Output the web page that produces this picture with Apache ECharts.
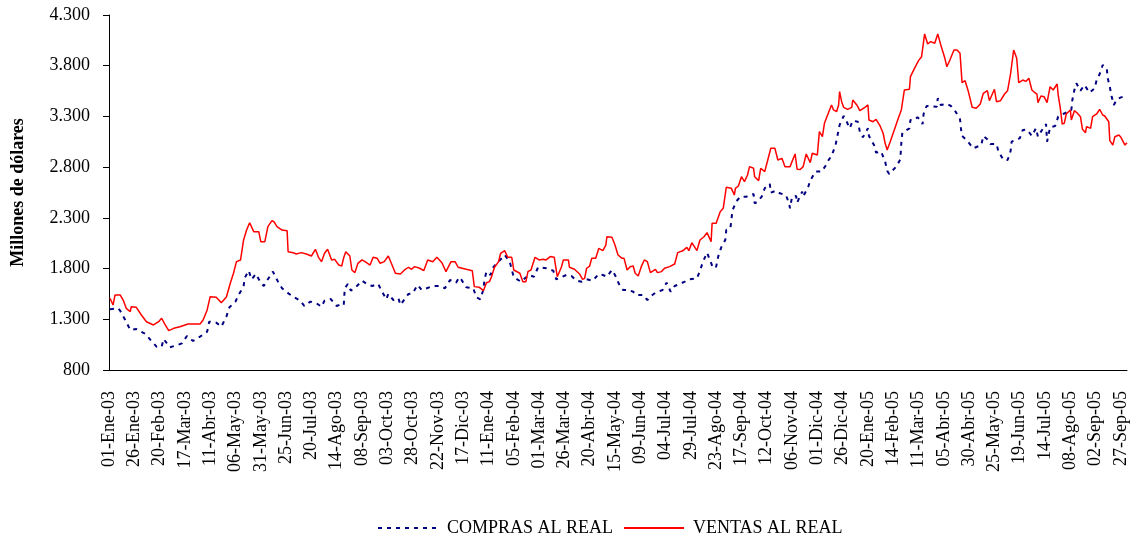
<!DOCTYPE html>
<html>
<head>
<meta charset="utf-8">
<title>Compras y ventas al real</title>
<script src="https://cdn.jsdelivr.net/npm/echarts/dist/echarts.min.js"></script>
<style>
  html, body { margin: 0; padding: 0; background: #fff; }
  #grafico { width: 1133px; height: 539px; }
</style>
</head>
<body>
<div id="grafico"></div>
<script>
// etiquetas del eje X: una cada 25 dias desde el 01-Ene-03 (dia 0)
var etiquetasFecha = [
  '01-Ene-03', '26-Ene-03', '20-Feb-03', '17-Mar-03', '11-Abr-03', '06-May-03', '31-May-03',
  '25-Jun-03', '20-Jul-03', '14-Ago-03', '08-Sep-03', '03-Oct-03', '28-Oct-03', '22-Nov-03',
  '17-Dic-03', '11-Ene-04', '05-Feb-04', '01-Mar-04', '26-Mar-04', '20-Abr-04', '15-May-04',
  '09-Jun-04', '04-Jul-04', '29-Jul-04', '23-Ago-04', '17-Sep-04', '12-Oct-04', '06-Nov-04',
  '01-Dic-04', '26-Dic-04', '20-Ene-05', '14-Feb-05', '11-Mar-05', '05-Abr-05', '30-Abr-05',
  '25-May-05', '19-Jun-05', '14-Jul-05', '08-Ago-05', '02-Sep-05', '27-Sep-05'
];

// VENTAS AL REAL (dia desde 01-Ene-03, millones de dolares)
var ventasDias = [
  1, 4, 6, 11, 14, 17, 21, 22, 27, 32,
  37, 44, 49, 52, 55, 59, 64, 70, 78, 90,
  93, 97, 100, 106, 111, 116, 120, 123, 126, 130,
  133, 136, 139, 143, 148, 150, 154, 157, 161, 163,
  166, 171, 176, 177, 182, 185, 190, 195, 200, 204,
  207, 210, 213, 216, 220, 223, 227, 230, 232, 234,
  238, 240, 243, 246, 250, 253, 258, 261, 265, 268,
  272, 276, 279, 283, 288, 292, 296, 299, 302, 307,
  311, 315, 320, 324, 329, 333, 338, 342, 345, 349,
  353, 359, 361, 366, 370, 373, 376, 378, 381, 385,
  387, 391, 394, 398, 400, 406, 409, 412, 414, 417,
  421, 425, 429, 432, 436, 440, 443, 447, 449, 454,
  455, 460, 465, 468, 470, 472, 475, 477, 481, 484,
  488, 491, 492, 497, 500, 503, 507, 509, 512, 515,
  518, 520, 523, 526, 529, 532, 535, 540, 542, 546,
  549, 554, 559, 562, 567, 571, 573, 576, 581, 584,
  588, 591, 595, 596, 600, 604, 607, 610, 615, 618,
  619, 622, 625, 628, 631, 633, 637, 638, 642, 644,
  648, 651, 654, 658, 661, 665, 668, 673, 678, 680,
  683, 686, 689, 693, 695, 700, 702, 705, 707, 711,
  714, 716, 719, 721, 722, 724, 726, 730, 734, 735,
  739, 742, 747, 750, 751, 755, 758, 762, 765, 767,
  769, 772, 776, 780, 783, 786, 791, 792, 796, 800,
  803, 806, 809, 812, 816, 819, 822, 826, 828, 831,
  835, 838, 841, 843, 846, 849, 853, 857, 861, 864,
  868, 870, 875, 877, 881, 885, 888, 891, 894, 897,
  899, 903, 906, 909, 912, 915, 917, 918, 921, 924,
  927, 930, 933, 937, 938, 940, 942, 944, 946, 950,
  951, 954, 957, 960, 962, 965, 966, 970, 972, 976,
  979, 982, 984, 988, 989, 992, 994, 998, 1000, 1004,
  1006
];
var ventasValores = [
  1507, 1441, 1540, 1540, 1490, 1408, 1375, 1424, 1418, 1342,
  1276, 1244, 1276, 1310, 1254, 1188, 1211, 1227, 1254, 1254,
  1293, 1392, 1523, 1517, 1464, 1520, 1660, 1754, 1868, 1885,
  2082, 2180, 2252, 2164, 2164, 2065, 2065, 2213, 2272, 2262,
  2213, 2180, 2174, 1966, 1957, 1944, 1957, 1944, 1924, 1990,
  1911, 1868, 1951, 1990, 1885, 1891, 1835, 1825, 1910, 1966,
  1924, 1786, 1760, 1852, 1885, 1868, 1835, 1911, 1901, 1852,
  1868, 1924, 1852, 1754, 1747, 1786, 1813, 1793, 1819, 1803,
  1779, 1885, 1868, 1911, 1858, 1770, 1868, 1868, 1813, 1803,
  1793, 1779, 1622, 1615, 1582, 1661, 1671, 1720, 1813, 1868,
  1951, 1977, 1911, 1911, 1786, 1754, 1671, 1671, 1770, 1786,
  1911, 1885, 1891, 1885, 1918, 1911, 1720, 1813, 1885, 1885,
  1813, 1793, 1747, 1694, 1704, 1803, 1825, 1901, 1901, 1999,
  1977, 2032, 2114, 2108, 2032, 1934, 1901, 1901, 1786, 1819,
  1825, 1754, 1727, 1819, 1885, 1868, 1760, 1793, 1760, 1770,
  1803, 1819, 1845, 1957, 1975, 2009, 1977, 2055, 1977, 2082,
  2114, 2154, 2065, 2246, 2246, 2361, 2394, 2601, 2591, 2525,
  2591, 2614, 2706, 2657, 2723, 2805, 2789, 2706, 2667, 2789,
  2756, 2870, 2986, 2986, 2870, 2887, 2805, 2805, 2930, 2779,
  2776, 2805, 2930, 2844, 2937, 2920, 3150, 3100, 3232, 3337,
  3413, 3364, 3347, 3413, 3544, 3445, 3390, 3370, 3390, 3462,
  3413, 3357, 3390, 3413, 3265, 3248, 3272, 3206, 3134, 3035,
  2969, 3051, 3166, 3281, 3364, 3561, 3568, 3692, 3774, 3850,
  3889, 4113, 4014, 4037, 4021, 4113, 4004, 3873, 3790, 3856,
  3955, 3955, 3922, 3633, 3652, 3554, 3390, 3380, 3423, 3528,
  3554, 3455, 3568, 3445, 3455, 3521, 3554, 3725, 3955, 3873,
  3633, 3659, 3645, 3676, 3561, 3534, 3521, 3436, 3502, 3495,
  3436, 3593, 3561, 3620, 3511, 3390, 3225, 3232, 3324, 3364,
  3265, 3357, 3331, 3298, 3173, 3140, 3199, 3183, 3298, 3324,
  3370, 3314, 3304, 3248, 3061, 3018, 3100, 3117, 3094, 3018,
  3041
];

// COMPRAS AL REAL
var comprasDias = [
  1, 9, 11, 16, 21, 27, 36, 41, 47, 52,
  54, 60, 67, 72, 77, 83, 90, 97, 99, 106,
  111, 116, 119, 125, 128, 133, 134, 138, 141, 145,
  150, 153, 157, 162, 167, 171, 178, 183, 189, 193,
  199, 205, 210, 213, 219, 225, 230, 232, 233, 236,
  239, 245, 250, 255, 260, 266, 269, 274, 276, 281,
  286, 288, 292, 296, 300, 305, 309, 314, 320, 327,
  332, 337, 343, 346, 348, 353, 360, 363, 367, 370,
  371, 373, 377, 380, 385, 391, 396, 400, 407, 411,
  415, 420, 424, 432, 439, 442, 447, 452, 457, 462,
  467, 472, 478, 484, 488, 492, 497, 500, 504, 508,
  513, 518, 521, 528, 532, 537, 540, 547, 551, 555,
  559, 564, 569, 573, 581, 584, 587, 591, 597, 600,
  602, 605, 609, 610, 614, 615, 616, 620, 624, 630,
  637, 638, 641, 645, 648, 653, 654, 659, 663, 669,
  672, 673, 675, 679, 680, 685, 686, 691, 693, 698,
  704, 708, 710, 714, 715, 718, 720, 722, 726, 729,
  732, 735, 740, 742, 745, 750, 751, 756, 758, 763,
  767, 769, 771, 778, 782, 783, 784, 791, 792, 796,
  799, 802, 804, 805, 808, 818, 819, 822, 828, 832,
  836, 841, 842, 843, 848, 854, 862, 864, 868, 871,
  877, 879, 884, 888, 891, 892, 897, 900, 903, 907,
  910, 912, 916, 918, 922, 926, 927, 930, 935, 938,
  943, 951, 952, 954, 956, 960, 964, 969, 974, 976,
  979, 982, 986, 987, 989, 991, 993, 996, 1000, 1004
];
var comprasValores = [
  1398, 1408, 1385, 1293, 1195, 1204, 1155, 1096, 1030, 1030,
  1106, 1024, 1044, 1063, 1135, 1086, 1129, 1178, 1277, 1267,
  1227, 1326, 1418, 1474, 1540, 1622, 1704, 1779, 1694, 1747,
  1661, 1628, 1694, 1770, 1671, 1606, 1550, 1517, 1484, 1431,
  1474, 1458, 1424, 1484, 1500, 1431, 1451, 1441, 1606, 1648,
  1582, 1628, 1681, 1648, 1628, 1648, 1589, 1497, 1550, 1490,
  1507, 1441, 1497, 1550, 1556, 1638, 1589, 1606, 1628, 1628,
  1606, 1687, 1661, 1714, 1694, 1615, 1606, 1517, 1497, 1596,
  1687, 1770, 1737, 1816, 1868, 1934, 1868, 1714, 1671, 1704,
  1737, 1720, 1813, 1803, 1779, 1694, 1714, 1737, 1727, 1681,
  1671, 1694, 1681, 1747, 1737, 1720, 1786, 1737, 1648, 1589,
  1589, 1572, 1540, 1540, 1490, 1540, 1562, 1589, 1661, 1572,
  1628, 1648, 1671, 1694, 1704, 1779, 1868, 1957, 1803, 1819,
  1918, 2009, 2082, 2180, 2197, 2272, 2371, 2464, 2509, 2509,
  2535, 2444, 2459, 2509, 2592, 2634, 2548, 2568, 2542, 2523,
  2444, 2394, 2509, 2516, 2450, 2558, 2509, 2607, 2667, 2756,
  2756, 2811, 2854, 2910, 2937, 3018, 3117, 3216, 3304, 3248,
  3183, 3258, 3248, 3150, 3094, 3183, 3107, 3018, 2943, 2953,
  2854, 2765, 2733, 2805, 2877, 3041, 3140, 3183, 3265, 3265,
  3291, 3265, 3225, 3324, 3403, 3396, 3479, 3413, 3423, 3403,
  3357, 3272, 3173, 3107, 3061, 2986, 3018, 3107, 3074, 3028,
  3028, 2953, 2870, 2870, 2960, 3051, 3074, 3084, 3166, 3170,
  3134, 3107, 3183, 3100, 3166, 3225, 3051, 3193, 3206, 3298,
  3324, 3364, 3462, 3561, 3627, 3554, 3610, 3534, 3577, 3659,
  3718, 3807, 3774, 3676, 3593, 3488, 3413, 3469, 3488, 3495
];

function pares(dias, valores) {
  return dias.map(function (d, i) { return [d, valores[i]]; });
}

// separador de miles con punto: 4300 -> "4.300"
function miles(v) {
  if (v < 1000) return String(v);
  var resto = String(v % 1000);
  while (resto.length < 3) resto = '0' + resto;
  return Math.floor(v / 1000) + '.' + resto;
}

var fuente = '"Liberation Serif", "Times New Roman", serif';
var grafico = echarts.init(document.getElementById('grafico'));

var option = {
  animation: false,
  backgroundColor: '#fff',
  textStyle: { fontFamily: fuente, color: '#000' },
  grid: { left: 109, right: 6, top: 15, bottom: 169 },
  legend: {
    left: 372,
    top: 514,
    itemWidth: 60,
    itemHeight: 18,
    itemGap: 10,
    // solo la linea, sin el simbolo circular
    itemStyle: { opacity: 0 },
    textStyle: { fontFamily: fuente, fontSize: 18, color: '#000', padding: [0, 0, 0, 4] },
    data: ['COMPRAS AL REAL', 'VENTAS AL REAL']
  },
  xAxis: {
    type: 'value',
    min: 0,
    max: 1006,
    interval: 25,
    axisLine: { lineStyle: { color: '#000', width: 1 } },
    axisTick: { show: false },
    splitLine: { show: false },
    axisLabel: {
      rotate: 90,
      margin: 21,
      fontFamily: fuente,
      fontSize: 18,
      color: '#000',
      showMaxLabel: false,
      formatter: function (v) {
        return v % 25 === 0 ? (etiquetasFecha[v / 25] || '') : '';
      }
    }
  },
  yAxis: {
    type: 'value',
    min: 800,
    max: 4300,
    interval: 500,
    name: 'Millones de dólares',
    nameLocation: 'middle',
    nameGap: 82,
    nameTextStyle: { fontFamily: fuente, fontSize: 18, fontWeight: 'bold', color: '#000' },
    axisLine: { show: true, lineStyle: { color: '#000', width: 1 } },
    axisTick: { show: true, length: 6, lineStyle: { color: '#000' } },
    splitLine: { show: false },
    axisLabel: {
      margin: 19,
      fontFamily: fuente,
      fontSize: 18,
      color: '#000',
      formatter: miles
    }
  },
  series: [
    {
      name: 'COMPRAS AL REAL',
      type: 'line',
      symbol: 'none',
      showSymbol: false,
      data: pares(comprasDias, comprasValores),
      lineStyle: { color: '#000080', width: 2, type: [4, 5] },
      itemStyle: { color: '#000080' }
    },
    {
      name: 'VENTAS AL REAL',
      type: 'line',
      symbol: 'none',
      showSymbol: false,
      data: pares(ventasDias, ventasValores),
      lineStyle: { color: '#ff0000', width: 1.5 },
      itemStyle: { color: '#ff0000' }
    }
  ]
};

grafico.setOption(option);
</script>
</body>
</html>
